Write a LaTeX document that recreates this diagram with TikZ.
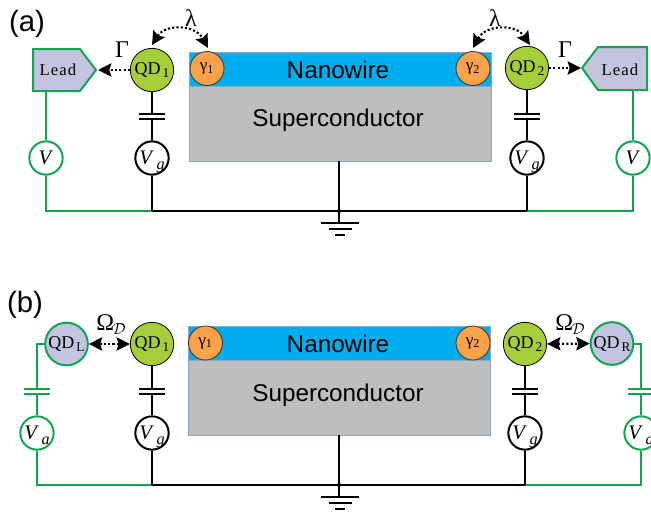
\documentclass[tikz,border=0pt]{standalone}
\usepackage{amsmath}
\usepackage{fontspec}
\setmainfont{Liberation Serif}
\newfontfamily\arialfont{Liberation Sans}
\usetikzlibrary{arrows.meta}
\definecolor{wiregreen}{HTML}{12A550}
\definecolor{dotgreen}{HTML}{A6CE39}
\definecolor{leadblue}{HTML}{C4C3E0}
\definecolor{wirecyan}{HTML}{00AEEF}
\definecolor{scgrey}{HTML}{BCBEC0}
\definecolor{scedge}{HTML}{8FA6BF}
\definecolor{mforange}{HTML}{F9A24A}
\tikzset{
	wire/.style={line width=1.5pt, black},
	gwire/.style={line width=1.5pt, wiregreen},
	hop/.style={line width=1.6pt, dash pattern=on 1.6pt off 1.6pt, black},
	qdot/.style={circle, draw=black, line width=.6pt, fill=dotgreen, minimum size=32.5pt, inner sep=0pt, font=\fontsize{13.5}{15}\selectfont},
	qdside/.style={circle, draw=wiregreen, line width=1.5pt, fill=leadblue, minimum size=32pt, inner sep=0pt, font=\fontsize{13.5}{15}\selectfont},
	majo/.style={circle, draw=black!80, line width=.6pt, fill=mforange, minimum size=25.5pt, inner sep=0pt, font=\fontsize{13}{15}\selectfont},
	gate/.style={circle, draw=black, line width=1.5pt, fill=white, minimum size=25pt, inner sep=0pt, font=\fontsize{15.5}{18}\selectfont},
	gsrc/.style={gate, draw=wiregreen},
	lead/.style={draw=wiregreen, line width=1.5pt, fill=leadblue, line join=miter},
	leadtxt/.style={font=\fontsize{12.5}{14}\selectfont},
	wirebox/.style={draw=scedge, line width=.6pt, fill=wirecyan},
	scbox/.style={draw=scedge, line width=.6pt, fill=scgrey},
	big/.style={font=\arialfont\fontsize{18.2}{20}\selectfont},
	tag/.style={font=\arialfont\fontsize{22}{24}\selectfont},
	sym/.style={font=\fontsize{18}{20}\selectfont},
	plate/.style={line width=1.5pt},
	>={Stealth[length=10pt, width=10pt, inset=1.5pt]},
}
\newcommand{\gatelab}[1]{\textit{V}\kern2pt\smash{\raisebox{-4pt}{\fontsize{12}{13}\selectfont\textit{#1}}}}
\newcommand{\dotlab}[1]{QD\kern1.5pt\smash{\raisebox{-2.5pt}{\fontsize{10}{11}\selectfont #1}}}
\newcommand{\leadlab}{L\kern.8pt e\kern.8pt a\kern.8pt d}
\begin{document}
\begin{tikzpicture}[x=.75pt, y=-.75pt]
	\useasboundingbox (0,0) rectangle (651,512);
	% panel (a)
	\node[tag] (taga) at (27,24) {(a)};
	\draw[scbox] (189,86) rectangle (491,161);
	\draw[wirebox] (189,52) rectangle (491,86);
	\node[big] (nwa) at (338,69.5) {Nanowire};
	\node[big] (sca) at (338,120) {Superconductor};
	\coordinate (scbota) at (339,161);
	\node[majo] (g1a) at (207,68.5) {γ\textsubscript{1}};
	\node[majo] (g2a) at (473,68.5) {γ\textsubscript{2}};
	\node[qdot] (qd1a) at (152,70) {\dotlab{1}};
	\node[qdot] (qd2a) at (527,68) {\dotlab{2}};
	\node[gate] (vg1a) at (152,158) {\gatelab{g}};
	\node[gate] (vg2a) at (527,158) {\gatelab{g}};
	\node[gsrc] (v1a) at (46,158) {\textit{V}};
	\node[gsrc] (v2a) at (633,158) {\textit{V}};
	\draw[lead] (33,49) -- (80,49) -- (96,70) -- (80,91) -- (33,91) -- cycle;
	\draw[lead] (582,68) -- (598,47) -- (647,47) -- (647,90) -- (598,90) -- cycle;
	\node[leadtxt] (l1a) at (58,70) {\leadlab};
	\node[leadtxt] (l2a) at (620,70) {\leadlab};
	\coordinate (lt1a) at (46,91);
	\coordinate (lt2a) at (633,90);
	\coordinate (tip1a) at (98,70);
	\coordinate (tip2a) at (581,68);
	\coordinate (b1a) at (46,211);
	\coordinate (j1a) at (152,211);
	\coordinate (j2a) at (527,211);
	\coordinate (b2a) at (633,211);
	\coordinate (gnda) at (339,211);
	\coordinate (epa) at (339,222.5);
	% wires of (a)
	\draw[gwire] (lt1a) -- (v1a);
	\draw[gwire] (lt2a) -- (v2a);
	\draw[gwire] (v1a) -- (b1a) -- (j1a);
	\draw[gwire] (v2a) -- (b2a) -- (j2a);
	\draw[wire] (vg1a) -- (j1a);
	\draw[wire] (vg2a) -- (j2a);
	\draw[wire] (j1a) -- (j2a);
	\draw[wire] (scbota) -- (epa);
	\fill (gnda) circle (2);
	\foreach \q/\v/\x in {qd1a/vg1a/152, qd2a/vg2a/527} {
		\draw[wire] (\q) -- (\x,114);
		\draw[wire] (\x,119) -- (\v);
		\draw[plate] (\x-13,114) -- (\x+13,114);
		\draw[plate] (\x-13,119) -- (\x+13,119);
	}
	\draw[plate] (321,222.7) -- (359,222.7);
	\draw[plate] (329,228.5) -- (352,228.5);
	\draw[plate] (335,235) -- (345,235);
	% hops of (a)
	\draw[hop, ->] (qd1a) -- (tip1a);
	\draw[hop, ->] (qd2a) -- (tip2a);
	\draw[hop, <->] (152,45) .. controls (165,24) and (195,24) .. (208,48);
	\draw[hop, <->] (473,48) .. controls (486,24) and (516,24) .. (530,45);
	\node[sym] (la1a) at (191,18) {λ};
	\node[sym] (la2a) at (495,18) {λ};
	\node[sym] (ga1a) at (122,50) {Γ};
	\node[sym] (ga2a) at (565,50) {Γ};
	% panel (b)
	\node[tag] (tagb) at (25,305) {(b)};
	\draw[scbox] (188,360) rectangle (490,435);
	\draw[wirebox] (188,326) rectangle (490,360);
	\node[big] (nwb) at (338,344) {Nanowire};
	\node[big] (scb) at (338,395) {Superconductor};
	\coordinate (scbotb) at (339,435);
	\node[majo] (g1b) at (205.5,343) {γ\textsubscript{1}};
	\node[majo] (g2b) at (473,343) {γ\textsubscript{2}};
	\node[qdot] (qd1b) at (152,344) {\dotlab{1}};
	\node[qdot] (qd2b) at (525,344) {\dotlab{2}};
	\node[qdside] (qdl) at (66.5,344) {\dotlab{L}};
	\node[qdside] (qdr) at (612,343.5) {\dotlab{R}};
	\node[gate] (vg1b) at (152,433) {\gatelab{g}};
	\node[gate] (vg2b) at (525,433) {\gatelab{g}};
	\node[gsrc] (va1) at (37,433) {\gatelab{a}};
	\node[gsrc] (va2) at (641,433) {\gatelab{a}};
	\coordinate (c1) at (37,344);
	\coordinate (c2) at (641,343.5);
	\coordinate (b1b) at (37,485);
	\coordinate (j1b) at (152,485);
	\coordinate (j2b) at (525,485);
	\coordinate (b2b) at (641,485);
	\coordinate (gndb) at (339,485);
	\coordinate (epb) at (339,497);
	% wires of (b)
	\draw[gwire] (qdl) -- (c1) -- (37,388.7);
	\draw[gwire] (37,394) -- (va1);
	\draw[gwire] (qdr) -- (c2) -- (641,388.7);
	\draw[gwire] (641,394) -- (va2);
	\draw[gwire] (va1) -- (b1b) -- (j1b);
	\draw[gwire] (va2) -- (b2b) -- (j2b);
	\draw[wire] (vg1b) -- (j1b);
	\draw[wire] (vg2b) -- (j2b);
	\draw[wire] (j1b) -- (j2b);
	\draw[wire] (scbotb) -- (epb);
	\fill (gndb) circle (2);
	\foreach \q/\v/\x in {qd1b/vg1b/152, qd2b/vg2b/525} {
		\draw[wire] (\q) -- (\x,388.7);
		\draw[wire] (\x,394) -- (\v);
		\draw[plate] (\x-13,388.7) -- (\x+13,388.7);
		\draw[plate] (\x-13,394) -- (\x+13,394);
	}
	\foreach \x in {37,641} {
		\draw[plate, wiregreen] (\x-13,388.7) -- (\x+13,388.7);
		\draw[plate, wiregreen] (\x-13,394) -- (\x+13,394);
	}
	\draw[plate] (321,497) -- (359,497);
	\draw[plate] (329,502.5) -- (352,502.5);
	\draw[plate] (335,509) -- (345,509);
	% hops of (b)
	\draw[hop, <->] (qdl) -- (qd1b);
	\draw[hop, <->] (qd2b) -- (qdr);
	\node[sym] (om1) at (111,325) {Ω\kern-1pt\raisebox{-3pt}{$\scriptstyle\mathcal{D}$}};
	\node[sym] (om2) at (570,325) {Ω\kern-1pt\raisebox{-3pt}{$\scriptstyle\mathcal{D}$}};
\end{tikzpicture}
\end{document}
